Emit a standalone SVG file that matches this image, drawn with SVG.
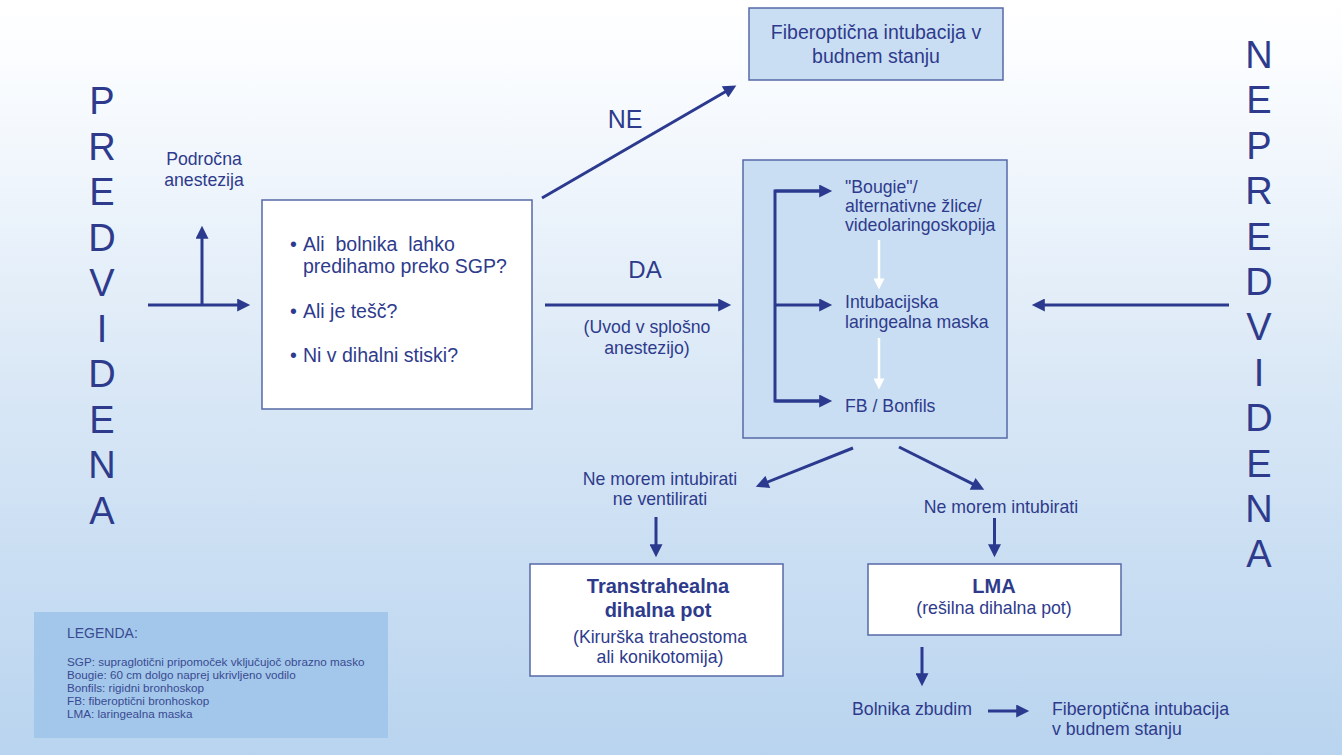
<svg xmlns="http://www.w3.org/2000/svg" width="1342" height="755" viewBox="0 0 1342 755">
<defs>
<linearGradient id="bg" x1="0" y1="0" x2="0" y2="1">
<stop offset="0" stop-color="#ffffff"/>
<stop offset="0.12" stop-color="#f8fbfe"/>
<stop offset="0.5" stop-color="#dae8f6"/>
<stop offset="1" stop-color="#b9d4ef"/>
</linearGradient>
<marker id="ah" viewBox="0 0 10 10" refX="6" refY="5" markerWidth="15" markerHeight="13" markerUnits="userSpaceOnUse" orient="auto">
<path d="M0,0 L10,5 L0,10 z" fill="#2b3a8e"/>
</marker>
<marker id="ahw" viewBox="0 0 10 10" refX="6" refY="5" markerWidth="12" markerHeight="11" markerUnits="userSpaceOnUse" orient="auto">
<path d="M0,0 L10,5 L0,10 z" fill="#ffffff"/>
</marker>
<style>
text{font-family:"Liberation Sans",Arial,sans-serif;fill:#2e3b8c}
.big{font-size:38px}
.m{font-size:17.7px}
.q{font-size:19.5px}
.t{font-size:19.5px}
.b{font-weight:bold;font-size:20px}
.lg{font-size:11.7px;fill:#3a4a92}
.c{text-anchor:middle}
.conn{stroke:#2b3a8e;stroke-width:3;fill:none;marker-end:url(#ah)}
.plain{stroke:#2b3a8e;stroke-width:3;fill:none}
.wconn{stroke:#ffffff;stroke-width:2.5;fill:none;marker-end:url(#ahw)}
.bluebox{fill:#cadef3;stroke:#5669a6;stroke-width:1.5}
.whitebox{fill:#ffffff;stroke:#5669a6;stroke-width:1.5}
</style>
</defs>
<rect x="0" y="0" width="1342" height="755" fill="url(#bg)"/>

<g id="predvidena">
<text class="big c" x="102" y="114">P</text>
<text class="big c" x="102" y="159.5">R</text>
<text class="big c" x="102" y="205">E</text>
<text class="big c" x="102" y="250.5">D</text>
<text class="big c" x="102" y="296">V</text>
<text class="big c" x="102" y="341.5">I</text>
<text class="big c" x="102" y="387">D</text>
<text class="big c" x="102" y="432.5">E</text>
<text class="big c" x="102" y="478">N</text>
<text class="big c" x="102" y="523.5">A</text>
</g>

<g id="nepredvidena">
<text class="big c" x="1259" y="68">N</text>
<text class="big c" x="1259" y="113.4">E</text>
<text class="big c" x="1259" y="158.8">P</text>
<text class="big c" x="1259" y="204.2">R</text>
<text class="big c" x="1259" y="249.6">E</text>
<text class="big c" x="1259" y="295">D</text>
<text class="big c" x="1259" y="340.4">V</text>
<text class="big c" x="1259" y="385.8">I</text>
<text class="big c" x="1259" y="431.2">D</text>
<text class="big c" x="1259" y="476.6">E</text>
<text class="big c" x="1259" y="522">N</text>
<text class="big c" x="1259" y="567.4">A</text>
</g>

<g id="podrocna">
<text class="m c" x="204" y="165">Področna</text>
<text class="m c" x="204" y="186">anestezija</text>
</g>

<g id="awake-top">
<rect class="bluebox" x="749" y="8" width="254" height="72"/>
<text class="t c" x="876" y="39">Fiberoptična intubacija v</text>
<text class="t c" x="876" y="63">budnem stanju</text>
</g>

<g id="questions">
<rect class="whitebox" x="262" y="200" width="270" height="209"/>
<text class="q" x="290" y="251">•</text>
<text class="q" x="303" y="251" xml:space="preserve">Ali  bolnika  lahko</text>
<text class="q" x="303" y="273">predihamo preko SGP?</text>
<text class="q" x="290" y="318">•</text>
<text class="q" x="303" y="318">Ali je tešč?</text>
<text class="q" x="290" y="362">•</text>
<text class="q" x="303" y="362">Ni v dihalni stiski?</text>
</g>

<g id="labels">
<text class="c" style="font-size:25px" x="625" y="128">NE</text>
<text class="c" style="font-size:24px" x="645" y="278">DA</text>
<text class="m c" x="647" y="333">(Uvod v splošno</text>
<text class="m c" x="647" y="354">anestezijo)</text>
</g>

<g id="options">
<rect class="bluebox" x="743" y="160" width="264" height="278"/>
<text class="m" x="845" y="193">"Bougie"/</text>
<text class="m" x="845" y="212">alternativne žlice/</text>
<text class="m" x="845" y="231">videolaringoskopija</text>
<text class="m" x="845" y="308">Intubacijska</text>
<text class="m" x="845" y="328">laringealna maska</text>
<text class="m" x="845" y="412">FB / Bonfils</text>
</g>

<g id="cicv">
<text class="m c" x="660" y="485">Ne morem intubirati</text>
<text class="m c" x="660" y="505">ne ventilirati</text>
</g>

<g id="cannot-intubate">
<text class="m c" x="1001" y="513">Ne morem intubirati</text>
</g>

<g id="transtracheal">
<rect class="whitebox" x="530" y="564" width="253" height="112"/>
<text class="b c" x="658" y="593">Transtrahealna</text>
<text class="b c" x="658" y="617">dihalna pot</text>
<text class="m c" x="660" y="643">(Kirurška traheostoma</text>
<text class="m c" x="660" y="663">ali konikotomija)</text>
</g>

<g id="lma">
<rect class="whitebox" x="868" y="564" width="253" height="71"/>
<text class="b c" x="994" y="593">LMA</text>
<text class="m c" x="994" y="614">(rešilna dihalna pot)</text>
</g>

<g id="wake">
<text class="m" x="852" y="715">Bolnika zbudim</text>
</g>

<g id="awake-bottom">
<text class="m" x="1052" y="715">Fiberoptična intubacija</text>
<text class="m" x="1052" y="735">v budnem stanju</text>
</g>

<g id="legend">
<rect x="34" y="612" width="354" height="126" fill="#a2c7ea"/>
<text x="67" y="638" style="font-size:14px;fill:#3a4a92">LEGENDA:</text>
<text class="lg" x="67" y="666">SGP: supraglotični pripomoček vključujoč obrazno masko</text>
<text class="lg" x="67" y="679">Bougie: 60 cm dolgo naprej ukrivljeno vodilo</text>
<text class="lg" x="67" y="692">Bonfils: rigidni bronhoskop</text>
<text class="lg" x="67" y="705">FB: fiberoptični bronhoskop</text>
<text class="lg" x="67" y="718">LMA: laringealna maska</text>
</g>

<g id="connectors">
<path class="conn" d="M148,305 L245,305"/>
<path class="conn" d="M202,305 L202,231"/>
<path class="conn" d="M542,198 L731.8,88"/>
<path class="conn" d="M545,305 L726,305"/>
<path class="conn" d="M1229,305 L1037,305"/>
<path class="plain" d="M827,191 L775,191 L775,401 L827,401"/>
<path class="conn" d="M775,191 L827,191"/>
<path class="conn" d="M775,305 L827,305"/>
<path class="conn" d="M775,401 L827,401"/>
<path class="wconn" d="M879,240 L879,285"/>
<path class="wconn" d="M879,338 L879,385"/>
<path class="conn" d="M853,448 L760.6,484.8"/>
<path class="conn" d="M899,447 L979.6,487.3"/>
<path class="conn" d="M656,517 L656,552"/>
<path class="conn" d="M994.5,518 L994.5,552"/>
<path class="conn" d="M922,647 L922,681"/>
<path class="conn" d="M988,711 L1024,711"/>
</g>
</svg>
